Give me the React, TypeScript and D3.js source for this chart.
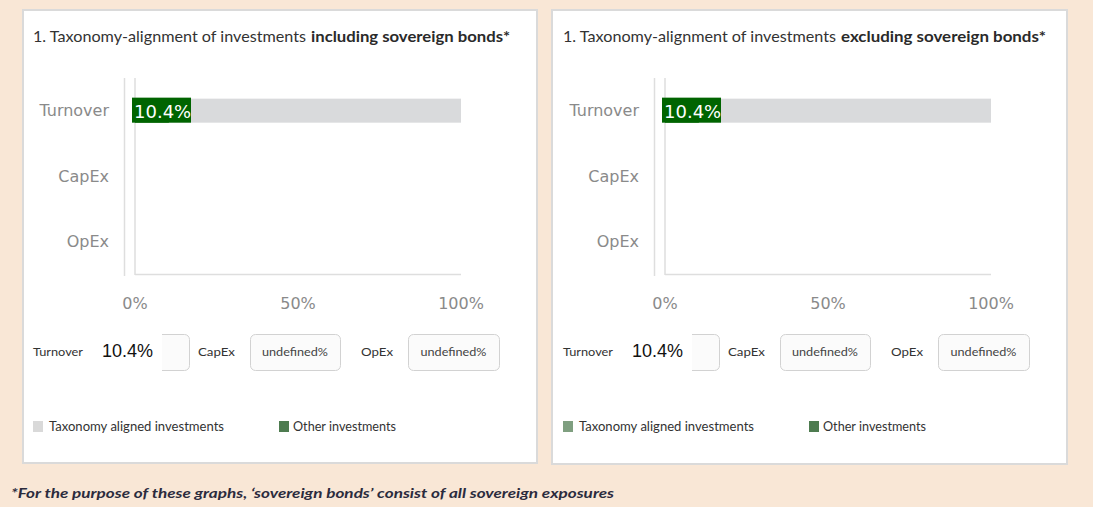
import React from "react";
import * as d3 from "d3";

const categories = ["Turnover", "CapEx", "OpEx"];
const alignedIncluding: (number | undefined)[] = [10.4, undefined, undefined];
const alignedExcluding: (number | undefined)[] = [10.4, undefined, undefined];
const xTicks = [0, 50, 100];
const titleLead = "1. Taxonomy-alignment of investments";
const titleBoldIncl = "including sovereign bonds*";
const titleBoldExcl = "excluding sovereign bonds*";
const legendLabels = ["Taxonomy aligned investments", "Other investments"];
const footnote =
  "*For the purpose of these graphs, \u2018sovereign bonds\u2019 consist of all sovereign exposures";

const W = 1093;
const H = 507;
const BG = "#f9e7d6";
const GEO = "Lato, 'Open Sans', sans-serif";
const AX = "'DejaVu Sans', sans-serif";

const fmt = (v: number | undefined) => `${v === undefined ? "undefined" : v}%`;

type PanelProps = {
  px: number;
  pw: number;
  ph: number;
  dx: number;
  bold: string;
  boldLen: number;
  values: (number | undefined)[];
  taxColor: string;
};

function Panel({ px, pw, ph, dx, bold, boldLen, values, taxColor }: PanelProps) {
  const x = d3.scaleLinear().domain([0, 100]).range([135 + dx, 461 + dx]);
  const y = d3
    .scaleBand<string>()
    .domain(categories)
    .range([78, 274])
    .paddingInner(0.6325)
    .paddingOuter(0.316);
  const bw = y.bandwidth();

  const inputLabelX = [33, 198, 361];
  const inputLabelLen = [50, 37, 32];
  const boxX = [97, 250, 408];
  const boxW = [92, 90, 91];

  return (
    <g>
      <rect x={px + 1} y={10} width={pw - 2} height={ph} fill="#ffffff" stroke="#dadada" strokeWidth={2} />
      {/* title */}
      <text x={33 + dx} y={42} fontFamily={GEO} fontSize={15} fill="#333" textLength={273} lengthAdjust="spacingAndGlyphs">
        {titleLead}
      </text>
      <text x={311 + dx} y={42} fontFamily={GEO} fontSize={15} fontWeight={700} fill="#2a2a2a" textLength={boldLen} lengthAdjust="spacingAndGlyphs">
        {bold}
      </text>

      {/* axes lines */}
      <line x1={124.5 + dx} x2={124.5 + dx} y1={78} y2={276} stroke="#dedede" strokeWidth={1.5} />
      <line x1={x(0)} x2={x(0)} y1={78} y2={275} stroke="#dedede" strokeWidth={1.5} />
      <line x1={x(0)} x2={x(100)} y1={274.5} y2={274.5} stroke="#dedede" strokeWidth={1.5} />

      {/* bars */}
      {categories.map((c, i) => {
        const v = values[i];
        if (v === undefined) return null;
        const y0 = y(c) as number;
        return (
          <g key={c}>
            <rect x={x(v)} y={y0} width={x(100) - x(v)} height={bw} fill="#d9dadc" />
            <rect x={x(0)} y={y0} width={x(v) - x(0)} height={bw} fill="#006400" />
            <rect x={x(0) - 3} y={y0 - 1} width={59} height={bw + 1} fill="#006400" />
            <text x={x(0) - 1} y={y0 + bw - 5} fontFamily={AX} fontSize={18} fill="#ffffff">
              {fmt(v)}
            </text>
          </g>
        );
      })}

      {/* y labels */}
      {categories.map((c) => (
        <text
          key={c}
          x={109 + dx}
          y={(y(c) as number) + bw / 2}
          dominantBaseline="central"
          textAnchor="end"
          fontFamily={AX}
          fontSize={16}
          fill="#8a8a8a"
        >
          {c}
        </text>
      ))}

      {/* x ticks */}
      {xTicks.map((t) => (
        <text key={t} x={x(t)} y={303} dominantBaseline="central" textAnchor="middle" fontFamily={AX} fontSize={16} fill="#8a8a8a">
          {`${t}%`}
        </text>
      ))}

      {/* input row */}
      {categories.map((c, i) => (
        <g key={"in" + c}>
          <text x={inputLabelX[i] + dx} y={356} fontFamily={GEO} fontSize={12} fill="#333" textLength={inputLabelLen[i]} lengthAdjust="spacingAndGlyphs">
            {c}
          </text>
          <rect x={boxX[i] + dx + 0.5} y={334.5} width={boxW[i]} height={36} rx={5} fill="#fbfbfb" stroke="#d2d2d2" />
          {i === 0 ? (
            <g>
              <rect x={boxX[i] + dx - 1} y={333} width={66} height={39} fill="#ffffff" />
              <text x={boxX[i] + dx + 5} y={357} fontFamily="'Liberation Sans', Arial, sans-serif" fontSize={18} fill="#111">
                {fmt(values[i])}
              </text>
            </g>
          ) : (
            <text
              x={boxX[i] + dx + boxW[i] / 2 - 33}
              y={356}
              fontFamily={GEO}
              fontSize={11}
              fill="#444"
              textLength={66}
              lengthAdjust="spacingAndGlyphs"
            >
              {fmt(values[i])}
            </text>
          )}
        </g>
      ))}

      {/* legend */}
      <rect x={33 + dx} y={421} width={10} height={11} fill={taxColor} />
      <text x={49 + dx} y={431} fontFamily={GEO} fontSize={13} fill="#333" textLength={175} lengthAdjust="spacingAndGlyphs">
        {legendLabels[0]}
      </text>
      <rect x={279 + dx} y={421} width={10} height={11} fill="#4e7c50" />
      <text x={293 + dx} y={431} fontFamily={GEO} fontSize={13} fill="#333" textLength={103} lengthAdjust="spacingAndGlyphs">
        {legendLabels[1]}
      </text>
    </g>
  );
}

export default function App() {
  return (
    <svg width={W} height={H} style={{ position: "absolute", left: 0, top: 0 }}>
      <rect x={0} y={0} width={W} height={H} fill={BG} />
      <Panel px={22} pw={516} ph={453} dx={0} bold={titleBoldIncl} boldLen={199} values={alignedIncluding} taxColor="#d9d9d9" />
      <Panel px={551} pw={517} ph={454} dx={530} bold={titleBoldExcl} boldLen={205} values={alignedExcluding} taxColor="#7f9f80" />
      <text x={11} y={498} fontFamily={GEO} fontSize={14} fontWeight={700} fontStyle="italic" fill="#2b2b3d" textLength={603} lengthAdjust="spacingAndGlyphs">
        {footnote}
      </text>
    </svg>
  );
}
